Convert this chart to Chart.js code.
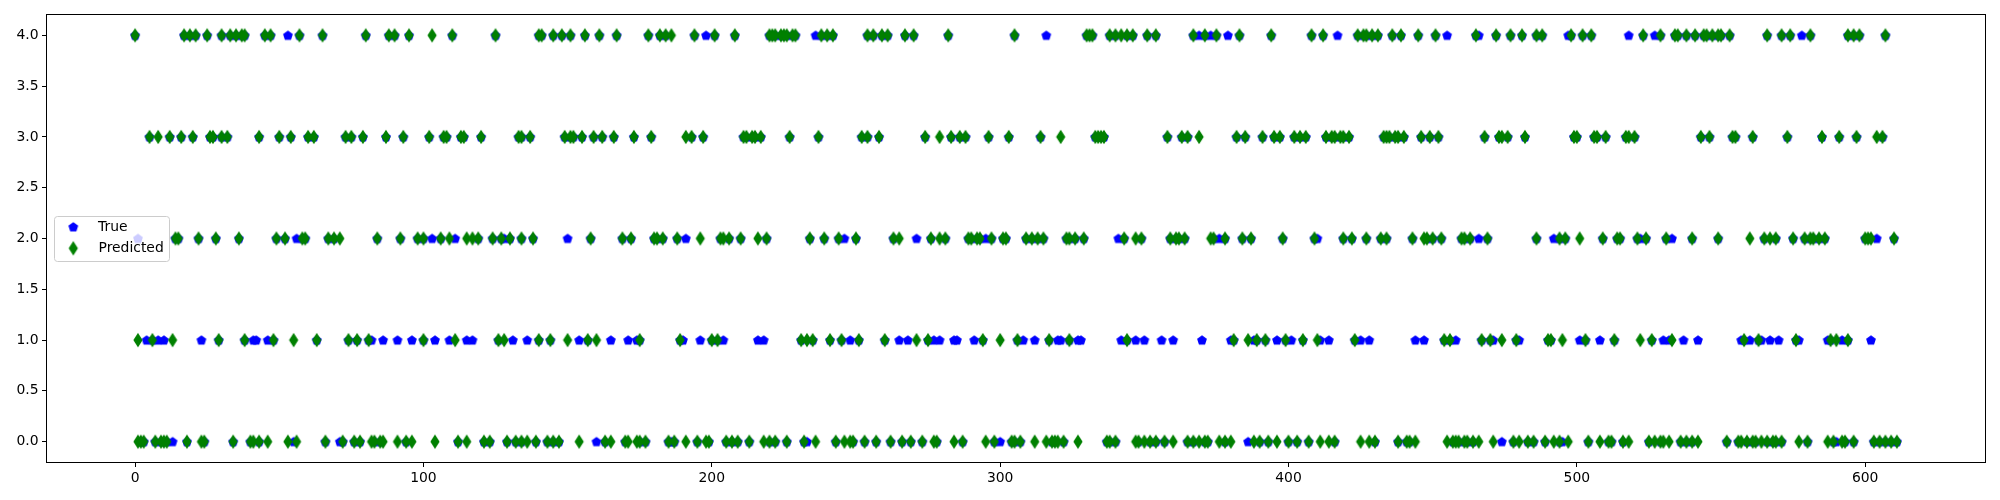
<!DOCTYPE html>
<html>
<head>
<meta charset="utf-8">
<script src="https://cdn.jsdelivr.net/npm/chart.js@4.4.1/dist/chart.umd.min.js"></script>
<style>
  html, body { margin: 0; padding: 0; background: #fff; }
  #wrap { width: 2000px; height: 500px; }
</style>
</head>
<body>
<div id="wrap"><canvas id="chart" width="2000" height="500"></canvas></div>
<script>
// sample indices where the model predicted each class (green diamonds)
const predicted0 = [1, 2, 3, 7, 9, 10, 11, 18, 23, 24, 34, 40, 41, 43, 46, 53, 56, 66, 72, 76, 78, 82, 83, 85, 86, 91, 94, 96, 104, 112, 115, 121, 123, 129, 132, 134, 136, 139, 143, 145, 147, 154, 163, 165, 170, 171, 174, 175, 177, 185, 187, 191, 195, 198, 199, 205, 207, 209, 213, 218, 220, 222, 226, 232, 236, 243, 246, 248, 249, 253, 257, 262, 266, 269, 273, 277, 278, 284, 287, 295, 298, 304, 305, 307, 312, 316, 318, 319, 320, 322, 327, 337, 338, 340, 347, 348, 350, 352, 354, 357, 360, 365, 367, 369, 371, 372, 376, 378, 380, 388, 390, 393, 396, 400, 403, 407, 411, 414, 416, 425, 428, 430, 438, 441, 442, 444, 455, 457, 458, 459, 461, 462, 464, 466, 471, 478, 480, 483, 485, 489, 492, 494, 497, 504, 508, 511, 512, 516, 518, 525, 527, 529, 530, 532, 536, 538, 540, 542, 552, 556, 557, 559, 561, 562, 564, 566, 568, 569, 571, 577, 580, 587, 589, 592, 593, 596, 603, 605, 607, 609, 611];
const predicted1 = [1, 6, 13, 29, 38, 48, 55, 63, 74, 77, 81, 100, 111, 126, 128, 140, 144, 150, 157, 160, 175, 189, 200, 202, 231, 233, 235, 241, 245, 251, 260, 271, 275, 294, 300, 306, 317, 324, 344, 381, 386, 389, 392, 399, 405, 410, 423, 454, 456, 467, 470, 474, 479, 490, 491, 495, 503, 513, 522, 526, 533, 558, 563, 576, 588, 590, 594];
const predicted2 = [14, 15, 22, 28, 36, 49, 52, 58, 59, 67, 69, 71, 84, 92, 98, 100, 106, 109, 115, 117, 119, 124, 127, 130, 134, 138, 158, 169, 172, 180, 181, 183, 188, 196, 203, 204, 206, 210, 216, 219, 234, 239, 244, 250, 263, 265, 276, 279, 281, 289, 290, 292, 293, 297, 301, 302, 309, 311, 313, 315, 323, 324, 326, 329, 343, 347, 349, 359, 361, 362, 364, 373, 374, 378, 384, 387, 398, 409, 419, 422, 427, 432, 434, 443, 447, 448, 450, 453, 460, 461, 463, 469, 486, 494, 496, 501, 509, 514, 515, 521, 524, 531, 540, 549, 560, 565, 567, 569, 575, 579, 581, 582, 584, 586, 600, 601, 602, 610];
const predicted3 = [5, 8, 12, 16, 20, 26, 27, 30, 32, 43, 50, 54, 60, 62, 73, 75, 79, 87, 93, 102, 107, 108, 113, 114, 120, 133, 134, 137, 149, 151, 152, 155, 159, 162, 166, 173, 179, 191, 193, 197, 211, 212, 214, 215, 217, 227, 237, 252, 254, 258, 274, 279, 283, 286, 288, 296, 303, 314, 321, 333, 334, 335, 336, 358, 363, 365, 369, 382, 385, 391, 395, 397, 402, 404, 406, 413, 415, 416, 418, 419, 421, 433, 434, 435, 437, 438, 440, 446, 449, 452, 468, 473, 474, 476, 482, 499, 500, 506, 507, 510, 517, 518, 520, 543, 546, 554, 555, 561, 573, 585, 591, 597, 604, 606];
const predicted4 = [0, 17, 19, 21, 25, 30, 33, 35, 37, 38, 45, 47, 57, 65, 80, 88, 90, 95, 103, 110, 125, 140, 141, 145, 148, 151, 156, 161, 167, 178, 182, 184, 186, 194, 201, 208, 220, 221, 222, 224, 225, 226, 228, 229, 238, 240, 242, 254, 256, 259, 261, 267, 270, 282, 305, 330, 331, 332, 338, 340, 342, 344, 346, 351, 354, 367, 371, 375, 383, 394, 408, 412, 424, 426, 427, 429, 431, 436, 439, 445, 451, 465, 472, 477, 481, 486, 488, 498, 502, 505, 523, 529, 534, 535, 538, 541, 544, 545, 547, 549, 550, 553, 566, 571, 574, 581, 594, 596, 598, 607];

// sample indices whose true class differs from the prediction (blue pentagons left visible)
const missed0 = [13, 55, 71, 160, 186, 233, 300, 386, 474, 495, 590];
const missed1 = [4, 8, 10, 23, 41, 42, 46, 82, 86, 91, 96, 104, 109, 115, 117, 131, 136, 154, 165, 171, 174, 190, 196, 204, 216, 218, 248, 265, 268, 277, 279, 284, 285, 291, 308, 312, 320, 321, 327, 328, 342, 347, 350, 356, 360, 370, 380, 388, 396, 401, 411, 414, 425, 428, 444, 447, 458, 471, 480, 501, 508, 530, 532, 537, 542, 557, 560, 564, 567, 570, 577, 587, 592, 602];
const missed2 = [1, 56, 103, 111, 128, 150, 191, 246, 271, 295, 341, 376, 410, 466, 492, 522, 533, 604];
const missed3 = [];
const missed4 = [53, 198, 236, 316, 369, 373, 379, 417, 455, 466, 497, 518, 527, 578];

const xTicks = [0, 100, 200, 300, 400, 500, 600];
const yTicks = [0, 0.5, 1, 1.5, 2, 2.5, 3, 3.5, 4];
const seriesNames = ['True', 'Predicted'];

const BLUE = '#0000ff';
const GREEN = '#008000';
const FONT = 'DejaVu Sans';

function makePentagon(color) {
  const c = document.createElement('canvas');
  c.width = 12;
  c.height = 12;
  const ctx = c.getContext('2d');
  const r = 4.3;
  ctx.beginPath();
  for (let k = 0; k < 5; k++) {
    const a = -Math.PI / 2 + k * 2 * Math.PI / 5;
    const px = 6 + r * Math.cos(a);
    const py = 6.4 + r * Math.sin(a);
    if (k === 0) ctx.moveTo(px, py); else ctx.lineTo(px, py);
  }
  ctx.closePath();
  ctx.fillStyle = color;
  ctx.strokeStyle = color;
  ctx.lineWidth = 1.4;
  ctx.fill();
  ctx.stroke();
  return c;
}

function makeThinDiamond(color) {
  const c = document.createElement('canvas');
  c.width = 12;
  c.height = 16;
  const ctx = c.getContext('2d');
  ctx.beginPath();
  ctx.moveTo(6, 8 - 5.9);
  ctx.lineTo(6 + 3.8, 8);
  ctx.lineTo(6, 8 + 5.9);
  ctx.lineTo(6 - 3.8, 8);
  ctx.closePath();
  ctx.fillStyle = color;
  ctx.strokeStyle = color;
  ctx.lineWidth = 1.4;
  ctx.fill();
  ctx.stroke();
  return c;
}

const pentagon = makePentagon(BLUE);
const diamond = makeThinDiamond(GREEN);

const predictedLists = [predicted0, predicted1, predicted2, predicted3, predicted4];
const missedLists = [missed0, missed1, missed2, missed3, missed4];
const missedIdx = new Set(missedLists.flat());

const predPoints = [];
const truePoints = [];
predictedLists.forEach((list, cls) => {
  list.forEach((i) => {
    predPoints.push({ x: i, y: cls });
    if (!missedIdx.has(i)) {
      truePoints.push({ x: i, y: cls });
    }
  });
});
missedLists.forEach((list, cls) => {
  list.forEach((i) => truePoints.push({ x: i, y: cls }));
});

const framePlugin = {
  id: 'frame',
  afterDatasetsDraw(chart) {
    const { ctx, chartArea } = chart;
    const l = Math.round(chartArea.left) - 0.5;
    const t = Math.round(chartArea.top) - 0.5;
    const r = Math.round(chartArea.right) + 0.5;
    const b = Math.round(chartArea.bottom) + 0.5;
    ctx.save();
    ctx.strokeStyle = '#000';
    ctx.lineWidth = 1;
    ctx.strokeRect(l, t, r - l, b - t);

    // legend box, drawn over the points like matplotlib does
    const bx = 54.5, by = 216.5, bw = 115, bh = 45, rad = 3;
    ctx.beginPath();
    ctx.moveTo(bx + rad, by);
    ctx.lineTo(bx + bw - rad, by);
    ctx.quadraticCurveTo(bx + bw, by, bx + bw, by + rad);
    ctx.lineTo(bx + bw, by + bh - rad);
    ctx.quadraticCurveTo(bx + bw, by + bh, bx + bw - rad, by + bh);
    ctx.lineTo(bx + rad, by + bh);
    ctx.quadraticCurveTo(bx, by + bh, bx, by + bh - rad);
    ctx.lineTo(bx, by + rad);
    ctx.quadraticCurveTo(bx, by, bx + rad, by);
    ctx.closePath();
    ctx.fillStyle = 'rgba(255,255,255,0.8)';
    ctx.fill();
    ctx.strokeStyle = '#cccccc';
    ctx.stroke();

    ctx.drawImage(pentagon, 73.3 - 6, 227.3 - 6.4);
    ctx.drawImage(diamond, 73.3 - 6, 248.3 - 8);
    ctx.fillStyle = '#000';
    ctx.font = `13.9px "${FONT}"`;
    ctx.textBaseline = 'middle';
    ctx.fillText(seriesNames[0], 98, 227.5);
    ctx.fillText(seriesNames[1], 98.5, 248.5);
    ctx.restore();
  }
};

new Chart(document.getElementById('chart'), {
  type: 'scatter',
  data: {
    datasets: [
      {
        label: seriesNames[0],
        data: truePoints,
        pointStyle: pentagon,
        pointRadius: 5,
        order: 1
      },
      {
        label: seriesNames[1],
        data: predPoints,
        pointStyle: diamond,
        pointRadius: 5,
        order: 0
      }
    ]
  },
  options: {
    responsive: false,
    devicePixelRatio: 1,
    animation: false,
    events: [],
    layout: { padding: { top: 15, right: 15, left: 0, bottom: 0 } },
    plugins: {
      legend: { display: false },
      tooltip: { enabled: false }
    },
    scales: {
      x: {
        type: 'linear',
        min: -30.55,
        max: 641.55,
        afterBuildTicks: (axis) => { axis.ticks = xTicks.map((v) => ({ value: v })); },
        afterFit: (axis) => { axis.height = 38; },
        border: { display: false },
        grid: { drawOnChartArea: false, drawTicks: true, tickLength: 5, color: '#000', lineWidth: 1 },
        ticks: {
          color: '#000',
          padding: 3,
          maxRotation: 0,
          autoSkip: false,
          font: { family: FONT, size: 13.9 },
          callback: (v) => String(v)
        }
      },
      y: {
        type: 'linear',
        min: -0.2,
        max: 4.2,
        afterBuildTicks: (axis) => { axis.ticks = yTicks.map((v) => ({ value: v })); },
        afterFit: (axis) => { axis.width = 47; },
        border: { display: false },
        grid: { drawOnChartArea: false, drawTicks: true, tickLength: 5, color: '#000', lineWidth: 1 },
        ticks: {
          color: '#000',
          padding: 3.5,
          autoSkip: false,
          font: { family: FONT, size: 13.9 },
          callback: (v) => Number(v).toFixed(1)
        }
      }
    }
  },
  plugins: [framePlugin]
});
</script>
</body>
</html>
